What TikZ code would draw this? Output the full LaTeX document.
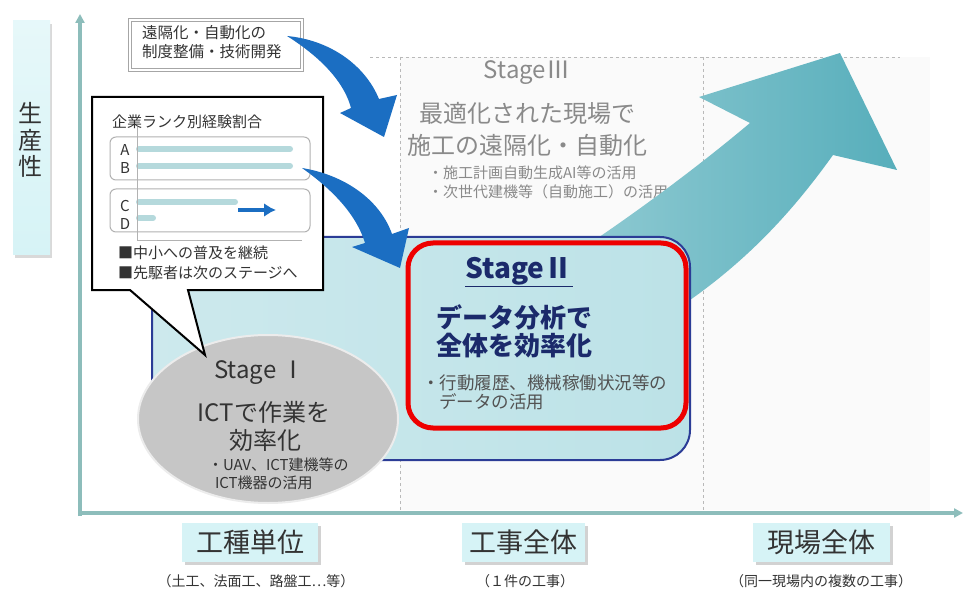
\documentclass[tikz,border=0pt]{standalone}
\usepackage{fontspec}
\setmainfont{Noto Sans CJK JP}
\usetikzlibrary{arrows.meta,shapes.geometric,calc}
\definecolor{blueA}{HTML}{1B6EC2}
\definecolor{tealA}{HTML}{57AEBB}
\definecolor{tealB}{HTML}{8FCAD2}
\definecolor{sfill}{HTML}{BCE2E7}
\definecolor{sfillL}{HTML}{CDE9ED}
\definecolor{sborder}{HTML}{2B3C96}
\definecolor{navy}{HTML}{1B2A6B}
\definecolor{axisc}{HTML}{8DBDBB}
\definecolor{cyanbox}{HTML}{D6F3F6}
\definecolor{sonefill}{HTML}{C6C6C6}
\definecolor{grayt}{HTML}{8A8A8A}
\definecolor{darkt}{HTML}{333333}
\definecolor{bart}{HTML}{B5D9DC}
\definecolor{redbox}{HTML}{EE0000}
\tikzset{
  txt/.style={inner sep=0pt, outer sep=0pt},
  fs/.style={font=\fontsize{#1}{#1}\selectfont},
  fsb/.style={font=\fontsize{#1}{#1}\selectfont\bfseries},
  stgthree/.style={txt, text=grayt},
  catbox/.style={fill=cyanbox, draw=none},
  catshadow/.style={fill=gray!35},
  smallbox/.style={draw=gray!60, line width=1pt, rounded corners=6pt, fill=white},
  bar/.style={line width=6pt, bart, line cap=round},
  axisline/.style={axisc, line width=4pt, -{Triangle[length=9pt,width=9pt]}},
  vdash/.style={gray!55, dashed, line width=0.8pt},
}
\begin{document}
\begin{tikzpicture}[x=1pt,y=-1pt]
\useasboundingbox (0,0) rectangle (964,596);
\fill[white] (0,0) rectangle (964,596);
% Stage III background
\fill[gray!4] (400,57) rectangle (930,510);
\draw[vdash] (370,57) -- (900,57);
\draw[vdash] (400,57) -- (400,510);
\draw[vdash] (703,57) -- (703,510);
% Stage III text
\node[stgthree, fs=24] (s3t) at (527,73) {StageⅢ};
\node[stgthree, fs=24] (s3a) at (527,113) {最適化された現場で};
\node[stgthree, fs=24] (s3b) at (527,145) {施工の遠隔化・自動化};
\node[stgthree, fs=15, anchor=west] (s3c) at (428,173) {・施工計画自動生成AI等の活用};
\node[stgthree, fs=15, anchor=west] (s3d) at (428,192) {・次世代建機等（自動施工）の活用};
% big teal arrow
\path[left color=tealB, right color=tealA]
  (580,250) .. controls (640,210) and (700,165) .. (750,123)
  -- (699,97) -- (840,53) -- (897,170) -- (833,155)
  .. controls (790,215) and (740,270) .. (660,320) -- (580,320) -- cycle;
% Stage II box
\path[draw=sborder, line width=2pt, left color=sfillL, right color=sfill, rounded corners=30pt]
  (152,237) rectangle (690,460);
% Stage I ellipse
\node[ellipse, fill=sonefill, draw=gray!15, line width=2pt, minimum width=260pt, minimum height=168pt] (s1) at (268,419) {};
\node[txt, fs=24, text=darkt] (s1t) at (260,373) {Stage Ⅰ};
\node[txt, fs=24, text=darkt] (s1a) at (264,412) {ICTで作業を};
\node[txt, fs=24, text=darkt] (s1b) at (265,440) {効率化};
\node[txt, fs=15, text=darkt, anchor=west] (s1c) at (208,465) {・UAV、ICT建機等の};
\node[txt, fs=15, text=darkt, anchor=west] (s1d) at (215,483) {ICT機器の活用};
% callout
\draw[fill=white, line width=2pt, line join=miter]
  (92,97) -- (323,97) -- (323,290) -- (188,290) -- (205,355) -- (130,290) -- (92,290) -- cycle;
\node[txt, fs=15, text=darkt, anchor=west] (cl) at (112,122) {企業ランク別経験割合};
\draw[smallbox] (110,137) rectangle (310,180);
\draw[smallbox] (110,189) rectangle (310,232);
\draw[bar] (139,149) -- (290,149);
\draw[bar] (139,166) -- (290,166);
\draw[bar] (139,202) -- (235,202);
\draw[bar] (139,218) -- (153,218);
\draw[gray!60, line width=0.8pt] (137,127) -- (137,240) -- (302,240);
\node[txt, fs=15, text=darkt] (la) at (125,150) {A};
\node[txt, fs=15, text=darkt] (lb) at (125,168) {B};
\node[txt, fs=15, text=darkt] (lc) at (125,206) {C};
\node[txt, fs=15, text=darkt] (ld) at (125,224) {D};
\coordinate (ca) at (238,210);
\coordinate (cb) at (276,210);
\draw[blueA, line width=4pt, -{Latex[length=12pt,width=14pt]}] (ca) -- (cb);
\node[txt, fs=15, text=darkt, anchor=west] (n1) at (118,253) {■中小への普及を継続};
\node[txt, fs=15, text=darkt, anchor=west] (n2) at (118,273) {■先駆者は次のステージへ};
% top box
\draw[draw=gray!70, line width=1pt, double=white, double distance=1.2pt, fill=white] (130,20) rectangle (302,70);
\node[txt, fs=15.5, text=darkt, anchor=west] (tb1) at (142,33) {遠隔化・自動化の};
\node[txt, fs=15.5, text=darkt, anchor=west] (tb2) at (142,52) {制度整備・技術開発};
% blue curved arrows
\fill[blueA] (287,36) .. controls (330,40) and (365,65) .. (379,99)
  -- (397,95) -- (384,137) -- (340,113) -- (351,108)
  .. controls (345,85) and (325,60) .. (287,36) -- cycle;
\fill[blueA] (302,168) .. controls (345,175) and (380,200) .. (392,234)
  -- (409,228) -- (400,268) -- (352,247) -- (365,243)
  .. controls (358,220) and (340,195) .. (302,168) -- cycle;
% red box
\draw[redbox, line width=5pt, rounded corners=25pt] (408,243) rectangle (686,428);
\node[txt, fsb=28, text=navy] (s2t) at (519,272) {\underline{StageⅡ}};
\node[txt, fsb=26, text=navy, anchor=west] (s2a) at (436,317) {データ分析で};
\node[txt, fsb=26, text=navy, anchor=west] (s2b) at (436,346) {全体を効率化};
\node[txt, fs=17.5, text=darkt!85, anchor=west] (s2c) at (422,383) {・行動履歴、機械稼働状況等の};
\node[txt, fs=17.5, text=darkt!85, anchor=west] (s2d) at (439,402) {データの活用};
% axes
\coordinate (ybot) at (80,516);
\coordinate (ytop) at (80,14);
\coordinate (xo) at (78,513);
\coordinate (xend) at (963,513);
\draw[axisline] (ybot) -- (ytop);
\draw[axisline] (xo) -- (xend);
% y label
\fill[gray!30] (15,24) rectangle (52,258);
\path[top color=cyanbox!60, bottom color=cyanbox, draw=none] (13,21) rectangle (50,255);
\node[txt, text=darkt, align=center, font=\fontsize{24}{26.5}\selectfont] (ylab) at (31,140) {生\\産\\性};
% x categories
\fill[catshadow] (185,526) rectangle (321,565);
\fill[catbox] (182,523) rectangle (318,562);
\node[txt, fs=27, text=darkt] (c1) at (250,542) {工種単位};
\fill[catshadow] (465,526) rectangle (588,565);
\fill[catbox] (462,523) rectangle (585,562);
\node[txt, fs=27, text=darkt] (c2) at (523,542) {工事全体};
\fill[catshadow] (756,526) rectangle (893,565);
\fill[catbox] (753,523) rectangle (890,562);
\node[txt, fs=27, text=darkt] (c3) at (821,542) {現場全体};
\node[txt, fs=14, text=darkt] (d1) at (256,581) {（土工、法面工、路盤工…等）};
\node[txt, fs=14, text=darkt] (d2) at (525,581) {（１件の工事）};
\node[txt, fs=14, text=darkt] (d3) at (821,581) {（同一現場内の複数の工事）};
\end{tikzpicture}
\end{document}
